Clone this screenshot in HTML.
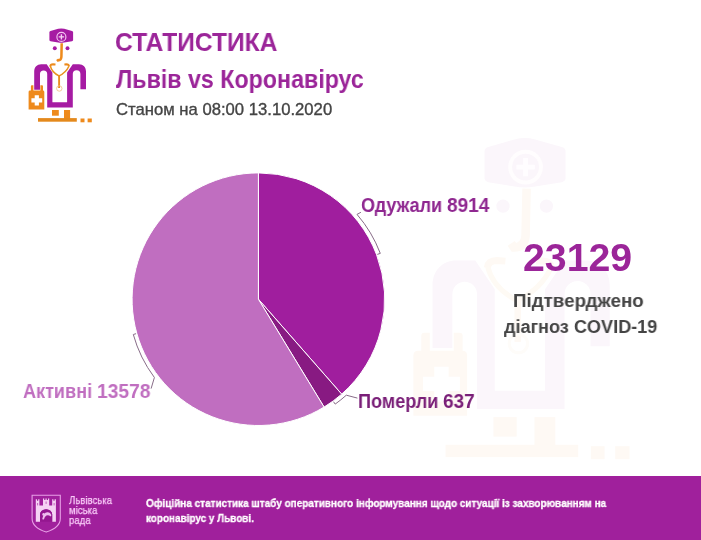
<!DOCTYPE html>
<html lang="uk">
<head>
<meta charset="utf-8">
<title>Статистика Львів vs Коронавірус</title>
<style>
html,body{margin:0;padding:0;}
body{width:701px;height:540px;position:relative;overflow:hidden;background:#fff;font-family:"Liberation Sans",Arial,sans-serif;}
.t{position:absolute;white-space:nowrap;line-height:1;transform-origin:0 0;will-change:transform;}
/*T*/
#title1{left:115.12px;top:29.73px;font-size:25.8px;font-weight:bold;color:#9b2599;transform:scaleX(0.9533);}
#title2{left:116.36px;top:67.00px;font-size:25.4px;font-weight:bold;color:#9b2599;transform:scaleX(0.9145);}
#sub{left:115.81px;top:102.36px;font-size:16.6px;color:#444;transform:scaleX(1.0043);}
#big{left:522.97px;top:239.10px;font-size:38px;font-weight:bold;color:#9b2599;transform:scaleX(1.0334);}
#cap1{left:513.24px;top:292.20px;font-size:18.9px;font-weight:bold;color:#444;transform:scaleX(0.9934);}
#cap2{left:504.16px;top:318.04px;font-size:18.9px;font-weight:bold;color:#444;transform:scaleX(0.9579);}
#l1{left:360.96px;top:196.08px;font-size:19.8px;font-weight:bold;color:#8f2790;transform:scaleX(0.9124);}
#l2{left:358.10px;top:392.00px;font-size:19.8px;font-weight:bold;color:#7a1f78;transform:scaleX(0.9138);}
#l3{left:23.32px;top:382.03px;font-size:19.8px;font-weight:bold;color:#c06ec0;transform:scaleX(0.9131);}
#c1{left:68.75px;top:495.15px;font-size:11.3px;color:#f9cbf8;transform:scaleX(0.8479);}
#c2{left:68.69px;top:505.25px;font-size:11.3px;color:#f9cbf8;transform:scaleX(0.8531);}
#c3{left:68.69px;top:515.05px;font-size:11.3px;color:#f9cbf8;transform:scaleX(0.8510);}
#f1{left:146.39px;top:497.69px;font-size:10.5px;font-weight:bold;color:#fff;transform:scaleX(0.9495);}
#f2{left:145.67px;top:513.30px;font-size:10.5px;font-weight:bold;color:#fff;transform:scaleX(0.9454);}
#l1b{left:447.13px;top:196.08px;font-size:19.8px;font-weight:bold;color:#8f2790;transform:scaleX(0.9624);}
#l2b{left:443.10px;top:392.00px;font-size:19.8px;font-weight:bold;color:#7a1f78;transform:scaleX(0.9597);}
#l3b{left:97.35px;top:382.03px;font-size:19.8px;font-weight:bold;color:#c06ec0;transform:scaleX(0.9723);}
/*E*/
#sub{-webkit-text-stroke:0.35px #444;}
#c1,#c2,#c3{-webkit-text-stroke:0.25px #f9cbf8;}
#f1,#f2{-webkit-text-stroke:0.3px #fff;}
#footer{position:absolute;left:0;top:476px;width:701px;height:64px;background:#a0209c;}
svg{position:absolute;left:0;top:0;}
</style>
</head>
<body>
<!-- watermark -->
<svg width="701" height="540" viewBox="0 0 701 540" style="opacity:1">
  <g transform="translate(524.2,206.1) scale(3.42) translate(-61,-48.3)" >
    <!-- hat -->
      <path d="M49.4,32.1 Q49.5,31.3 50.5,31 L58.2,28.8 Q61.2,28 64.2,28.8 L72,31 Q73,31.3 73.1,32.1 V40.3 Q73,41 72,41.3 L64.2,42.6 Q61.2,43.1 58.2,42.6 L50.5,41.3 Q49.5,41 49.4,40.3 Z" fill="#fbf6fb"/>
      <circle cx="61.4" cy="36.9" r="4.5" fill="none" stroke="#fffdfe" stroke-width="1.15"/>
      <path d="M61.4,34.2 V39.6 M58.7,36.9 H64.1" stroke="#fffdff" stroke-width="1.4"/>
      <!-- eyes -->
      <circle cx="54.8" cy="48.3" r="1.95" fill="#fbf6fb"/>
      <circle cx="67.5" cy="48.3" r="1.95" fill="#fbf6fb"/>
      <!-- nose -->
      <path d="M61.7,43.2 L61.4,57 Q61.1,60.4 58,60.4 L57.2,59.2" fill="none" stroke="#fef9f4" stroke-width="2.5"/>
      <!-- coat -->
      <path d="M34.2,89.8 V71.5 C34.2,67.2 37,64.2 41.2,64.2 H46.7 L52.4,72.6 V102.3 H67.1 V72.6 L72.8,64.2 H79 C83.2,64.2 86,67.2 86,71.5 V89.3 H80.4 V74 A3.8,3.8 0 0 0 72.8,74 V107.6 H47.2 V74 A3.6,3.6 0 0 0 40,74 V89.8 Z" fill="#fbf6fb"/>
      <!-- stethoscope -->
      <path d="M50.2,66.3 Q50.5,64.2 53,64.2 L55.5,64.4 M64.4,64.4 L66.4,64.3 Q68.8,64.3 69,66.4" fill="none" stroke="#fef9f4" stroke-width="2"/>
      <path d="M50.3,66 Q52,72.5 59,75.9 Q66,72.5 68.9,66.2" fill="none" stroke="#fefaf4" stroke-width="1.5"/>
      <path d="M59.1,75.6 V88" fill="none" stroke="#fef9f4" stroke-width="1.9"/>
      <circle cx="59.3" cy="88.5" r="2.7" fill="none" stroke="#fefcf9" stroke-width="0.9"/>
      <!-- bag -->
      <path d="M30.9,91 V86.2 Q30.9,85.3 31.8,85.3 H33.4 V91 Z M40.4,91 V85.3 H42.1 Q43,85.3 43,86.2 V91 Z" fill="#fef9f4"/>
      <path d="M28.6,92 Q28.6,90.6 30,90.6 H42.9 Q44.3,90.6 44.3,92 V109.6 H28.6 Z" fill="#fef9f4"/>
      <path d="M36.8,95.3 V105.4 M31.4,100.3 H42.2" stroke="#ffffff" stroke-width="4.2"/>
      <!-- feet, ground -->
      <rect x="52" y="110" width="6.8" height="5.7" fill="#fef9f4"/>
      <rect x="64" y="110" width="6.1" height="9" fill="#fef9f4"/>
      <rect x="38" y="118.1" width="38.8" height="3.6" fill="#fef9f4"/>
      <rect x="80.5" y="118.5" width="4" height="3.8" fill="#fef9f4"/>
      <rect x="87.6" y="118.5" width="4.2" height="3.8" fill="#fef9f4"/>
  
  </g>
</svg>

<!-- small icon -->
<svg width="701" height="540" viewBox="0 0 701 540">
  <g>
      <!-- hat -->
      <path d="M49.4,32.1 Q49.5,31.3 50.5,31 L58.2,28.8 Q61.2,28 64.2,28.8 L72,31 Q73,31.3 73.1,32.1 V40.3 Q73,41 72,41.3 L64.2,42.6 Q61.2,43.1 58.2,42.6 L50.5,41.3 Q49.5,41 49.4,40.3 Z" fill="#a61ba3"/>
      <circle cx="61.4" cy="36.9" r="4.5" fill="none" stroke="#f3c4f2" stroke-width="1.15"/>
      <path d="M61.4,34.2 V39.6 M58.7,36.9 H64.1" stroke="#f6d0f5" stroke-width="1.4"/>
      <!-- eyes -->
      <circle cx="54.8" cy="48.3" r="1.95" fill="#a61ba3"/>
      <circle cx="67.5" cy="48.3" r="1.95" fill="#a61ba3"/>
      <!-- nose -->
      <path d="M61.7,43.2 L61.4,57 Q61.1,60.4 58,60.4 L57.2,59.2" fill="none" stroke="#ee8a1c" stroke-width="2.5"/>
      <!-- coat -->
      <path d="M34.2,89.8 V71.5 C34.2,67.2 37,64.2 41.2,64.2 H46.7 L52.4,72.6 V102.3 H67.1 V72.6 L72.8,64.2 H79 C83.2,64.2 86,67.2 86,71.5 V89.3 H80.4 V74 A3.8,3.8 0 0 0 72.8,74 V107.6 H47.2 V74 A3.6,3.6 0 0 0 40,74 V89.8 Z" fill="#a61ba3"/>
      <!-- stethoscope -->
      <path d="M50.2,66.3 Q50.5,64.2 53,64.2 L55.5,64.4 M64.4,64.4 L66.4,64.3 Q68.8,64.3 69,66.4" fill="none" stroke="#ec8a1c" stroke-width="2"/>
      <path d="M50.3,66 Q52,72.5 59,75.9 Q66,72.5 68.9,66.2" fill="none" stroke="#e8921e" stroke-width="1.5"/>
      <path d="M59.1,75.6 V88" fill="none" stroke="#e98d1c" stroke-width="1.9"/>
      <circle cx="59.3" cy="88.5" r="2.7" fill="none" stroke="#f2c58c" stroke-width="0.9"/>
      <!-- bag -->
      <path d="M30.9,91 V86.2 Q30.9,85.3 31.8,85.3 H33.4 V91 Z M40.4,91 V85.3 H42.1 Q43,85.3 43,86.2 V91 Z" fill="#ee8a1c"/>
      <path d="M28.6,92 Q28.6,90.6 30,90.6 H42.9 Q44.3,90.6 44.3,92 V109.6 H28.6 Z" fill="#ee8a1c"/>
      <path d="M36.8,95.3 V105.4 M31.4,100.3 H42.2" stroke="#fff" stroke-width="4.2"/>
      <!-- feet, ground -->
      <rect x="52" y="110" width="6.8" height="5.7" fill="#ee8a1c"/>
      <rect x="64" y="110" width="6.1" height="9" fill="#ee8a1c"/>
      <rect x="38" y="118.1" width="38.8" height="3.6" fill="#e4891c"/>
      <rect x="80.5" y="118.5" width="4" height="3.8" fill="#ee8a1c"/>
      <rect x="87.6" y="118.5" width="4.2" height="3.8" fill="#ee8a1c"/>
    </g>
</svg>

<!-- pie -->
<svg width="701" height="540" viewBox="0 0 701 540" id="pie">
  <g stroke="#fff" stroke-width="1" stroke-linejoin="round">
    <path d="M258.4,299.2 L258.40,172.90 A126.3,126.3 0 0 1 341.68,394.15 Z" fill="#a01e9e"/>
    <path d="M258.4,299.2 L341.68,394.15 A126.3,126.3 0 0 1 324.09,407.07 Z" fill="#881a82"/>
    <path d="M258.4,299.2 L324.09,407.07 A126.3,126.3 0 1 1 258.40,172.90 Z" fill="#c06ec0"/>
  </g>
  <g fill="none" stroke="#886c88" stroke-width="1">
    <path d="M360.9,212.3 L357,214.4 A130,130 0 0 1 380.3,253.4 L377.3,254.4"/>
    <path d="M357.4,398.1 L346.3,395.2 A130,130 0 0 1 335.2,404.1 L333.5,401.7"/>
    <path d="M151.1,388.6 L154.4,377.5 A130,130 0 0 1 133.3,334.5 L136,333.7"/>
  </g>
</svg>

<div class="t" id="title1">СТАТИСТИКА</div>
<div class="t" id="title2">Львів vs Коронавірус</div>
<div class="t" id="sub">Станом на 08:00 13.10.2020</div>

<div class="t" id="l1">Одужали</div><div class="t" id="l1b">8914</div>
<div class="t" id="l2">Померли</div><div class="t" id="l2b">637</div>
<div class="t" id="l3">Активні</div><div class="t" id="l3b">13578</div>

<div class="t" id="big">23129</div>
<div class="t" id="cap1">Підтверджено</div>
<div class="t" id="cap2">діагноз COVID-19</div>

<div id="footer"></div>
<svg id="shield" width="701" height="540" viewBox="0 0 701 540">
  <path d="M32.1,495.2 H60.3 V518.5 Q60.3,527.5 46.2,532.1 Q32.1,527.5 32.1,518.5 Z" fill="none" stroke="#e7a0e6" stroke-width="1.1"/>
  <g fill="#f5d2f4">
    <path d="M35.8,521.8 V499.2 H37 V500.7 H38.2 V499.2 H39.4 V505.6 H43 V498.4 H44.2 V500 H45.5 V498.4 H46.7 V500 H48 V498.4 H49.2 V505.6 H52.2 V499.2 H53.4 V500.7 H54.6 V499.2 H55.9 V521.8 H52.2 V514.5 A6.1,5.2 0 0 0 40,514.5 V521.8 Z"/>
  </g>
  <path d="M40,521.8 V514.5 A6.1,5.2 0 0 1 52.2,514.5 V521.8 Z" fill="#951790"/>
  <path d="M42.2,519.2 Q43.3,512.6 47.2,512.2 Q50.4,512 51.4,515.2 L50.6,516.6 Q48.6,514.6 46.4,515.6 Q44.6,516.6 43.9,519.4 Z" fill="#efbdee"/>
  <circle cx="43.6" cy="514.4" r="1.3" fill="#efbdee"/>
  <g fill="#c260bb">
    <rect x="37.1" y="503" width="1" height="2.4"/>
    <rect x="53.6" y="503" width="1" height="2.4"/>
    <rect x="45.6" y="501.5" width="1" height="2.4"/>
  </g>
</svg>
<div class="t" id="c1">Львівська</div>
<div class="t" id="c2">міська</div>
<div class="t" id="c3">рада</div>
<div class="t" id="f1">Офіційна статистика штабу оперативного інформування щодо ситуації із захворюванням на</div>
<div class="t" id="f2">коронавірус у Львові.</div>
</body>
</html>
